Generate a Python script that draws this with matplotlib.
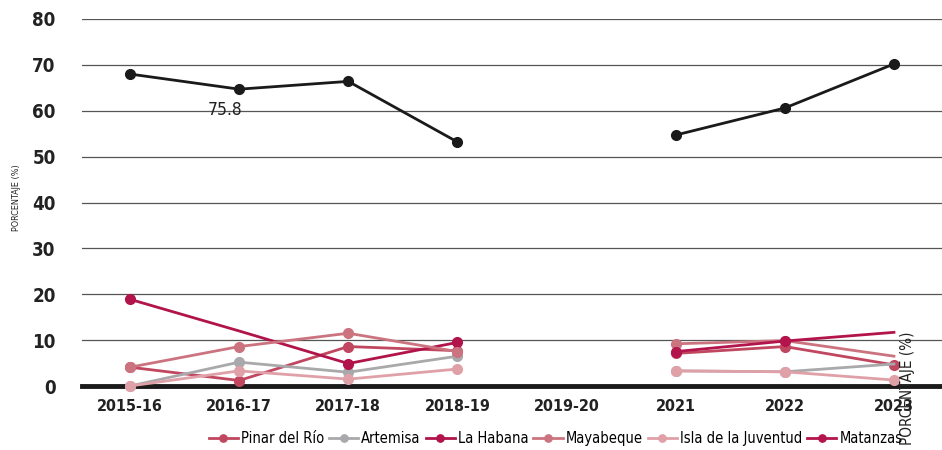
import numpy as np
import matplotlib
matplotlib.use("Agg")
import matplotlib.pyplot as plt

plt.rcParams['font.family'] = ['DejaVu Sans']
plt.rcParams['font.stretch'] = 'condensed'

# datos
periodos = ['2015-16', '2016-17', '2017-18', '2018-19', '2019-20', '2021', '2022', '2023']
nan = np.nan
total = [68.0, 64.7, 66.4, 53.2, nan, 54.7, 60.6, 70.2]
pinar = [4.1, 1.2, 8.6, 7.7, nan, 7.1, 8.6, 4.6]
artemisa = [0.0, 5.2, 3.0, 6.5, nan, 3.3, 3.1, 4.8]
habana = [18.9, 12.0, 4.9, 9.5, nan, nan, nan, nan]
mayabeque = [4.1, 8.6, 11.5, 7.5, nan, 9.2, 9.9, 6.5]
isla = [0.0, 3.3, 1.5, 3.7, nan, 3.3, 3.1, 1.3]
matanzas = [nan, nan, nan, nan, nan, 7.5, 9.8, 11.7]

series = [
    ('Pinar del Río', pinar, '#c0475f', [0, 1, 2, 3, 5, 6, 7]),
    ('Artemisa', artemisa, '#a9a9ab', [0, 1, 2, 3, 5, 6]),
    ('La Habana', habana, '#b0144a', [0, 2, 3]),
    ('Mayabeque', mayabeque, '#cc7380', [0, 1, 2, 3, 5, 6]),
    ('Isla de la Juventud', isla, '#e0a0a8', [0, 1, 2, 3, 5, 6, 7]),
    ('Matanzas', matanzas, '#b3144b', [5, 6]),
]

fig = plt.figure(figsize=(9.42, 4.5), dpi=100)
ax = fig.add_axes([0.087, 0.1422, 0.913, 0.8156])

x = np.arange(len(periodos))
ax.plot(x, total, color='#1a1a1a', lw=2, marker='o', ms=7, zorder=5)

handles = []
for name, vals, c, mk in series:
    ln, = ax.plot(x, vals, color=c, lw=2, marker='o', ms=7, markevery=mk,
                  label=name, zorder=4, clip_on=False)
    handles.append(ln)

ax.text(0.87, 60.2, '75.8', ha='center', va='center', fontsize=12.5, color='#222222')

ax.set_xlim(-0.44, 7.44)
ax.set_ylim(0, 80)
ax.set_yticks(range(0, 81, 10))
ax.set_xticks(x)
ax.set_xticklabels(periodos)
ax.grid(axis='y', color='#555555', lw=0.9)
ax.set_axisbelow(True)
for s in ['top', 'right', 'left']:
    ax.spines[s].set_visible(False)
ax.spines['bottom'].set_linewidth(3.5)
ax.spines['bottom'].set_color('#1a1a1a')
ax.spines['bottom'].set_zorder(3)
ax.tick_params(axis='both', length=0, labelsize=11.5, colors='#222222')
ax.tick_params(axis='y', pad=19, labelsize=13.5)
ax.tick_params(axis='x', pad=9)
for lb in ax.get_yticklabels() + ax.get_xticklabels():
    lb.set_fontweight('bold')

fig.text(0.017, 0.56, 'PORCENTAJE (%)', rotation=90, ha='center', va='center',
         fontsize=6.5, color='#222222')
fig.text(0.963, 0.137, 'PORCENTAJE (%)', rotation=90, ha='center', va='center',
         fontsize=11, color='#222222')

fig.legend(handles=handles, loc='center right', bbox_to_anchor=(0.958, 0.025),
           ncol=6, frameon=False, fontsize=10.5, handlelength=2.0, handletextpad=0.2,
           columnspacing=0.35, markerscale=0.75, borderaxespad=0, borderpad=0)

fig.savefig('out.png', dpi=100)
